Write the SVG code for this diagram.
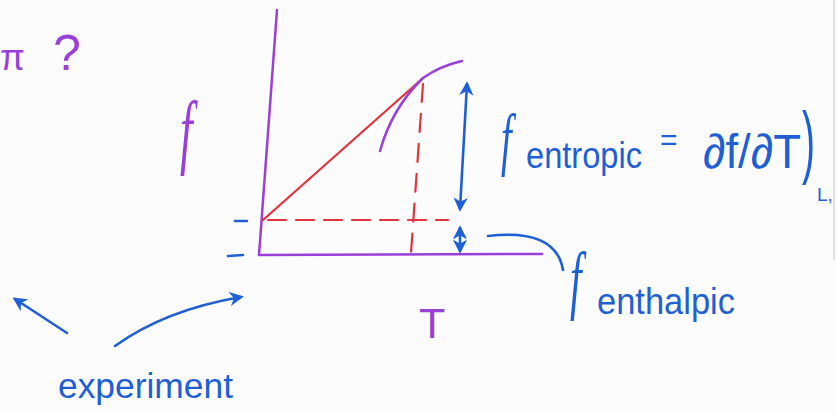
<svg xmlns="http://www.w3.org/2000/svg" width="837" height="414" viewBox="0 0 837 414">
<style>
.pu{stroke:#9a3fd8;fill:none;stroke-width:2.5;stroke-linecap:round}
.rd{stroke:#e2323c;fill:none;stroke-width:2.2;stroke-linecap:round}
.bl{stroke:#1f5fd6;fill:none;stroke-width:2.6;stroke-linecap:round}
.tb{fill:#1f5fd6;font-family:"Liberation Sans",sans-serif}
.tp{fill:#9a3fd8;font-family:"Liberation Sans",sans-serif}
.sf{font-family:"Liberation Serif",serif;font-style:italic}
</style>
<defs>
<marker id="ah" viewBox="0 0 10 10" refX="8" refY="5" markerWidth="5.5" markerHeight="5.5" orient="auto-start-reverse">
<path d="M0,0 L10,5 L0,10 L3,5 Z" fill="#1f5fd6"/>
</marker>
</defs>
<rect width="837" height="414" fill="#fcfcfc"/>
<line x1="834" y1="0" x2="834" y2="260" stroke="#d8d8d8" stroke-width="1.5"/>

<g id="axes">
<path class="pu" d="M277,10 L259,255"/>
<path class="pu" d="M259,255 L542,254"/>
<path class="bl" d="M228,256 L243,255" stroke-width="4"/>
<path class="bl" d="M235,221 L247,221"/>
</g>

<g id="curve">
<path class="rd" d="M263,220 L423,78"/>
<path class="pu" d="M380,151 Q392,108 423,78 Q440,66 462,61"/>
<path class="rd" d="M423,84 L411,253" stroke-dasharray="18,12"/>
<path class="rd" d="M268,220 L448,220" stroke-dasharray="18,10"/>
</g>

<g id="connectors">
<path class="bl" d="M467,84 L460,209" marker-start="url(#ah)" marker-end="url(#ah)"/>
<path class="bl" d="M460,228 L460,251" marker-start="url(#ah)" marker-end="url(#ah)"/>
<path class="bl" d="M488,236 Q556,228 563,270"/>
<path class="bl" d="M67,333 L15,299" marker-end="url(#ah)"/>
<path class="bl" d="M115,346 Q165,310 241,297" marker-end="url(#ah)"/>
</g>

<g id="labels">
<text class="tp" x="0" y="70" font-size="36">π</text>
<text class="tp" x="53" y="70" font-size="50">?</text>
<text class="tp sf" transform="translate(180,158) scale(0.55,1)" font-size="82">f</text>
<text class="tp" x="419" y="338" font-size="43">T</text>
<text class="tb sf" transform="translate(501,162) scale(0.55,1)" font-size="70">f</text>
<text class="tb" x="526" y="168" font-size="36" textLength="116" lengthAdjust="spacingAndGlyphs">entropic</text>
<text class="tb" x="660" y="150" font-size="30">=</text>
<text class="tb" x="703" y="168" font-size="48" textLength="98" lengthAdjust="spacingAndGlyphs">∂f/∂T</text>
<text class="tb" x="802" y="168" font-size="80" textLength="13" lengthAdjust="spacingAndGlyphs">)</text>
<text class="tb" x="817" y="201" font-size="19">L,</text>
<text class="tb sf" transform="translate(570,305) scale(0.55,1)" font-size="76">f</text>
<text class="tb" x="597" y="314" font-size="36" textLength="138" lengthAdjust="spacingAndGlyphs">enthalpic</text>
<text class="tb" x="58" y="398" font-size="35" textLength="175" lengthAdjust="spacingAndGlyphs">experiment</text>
</g>
</svg>
